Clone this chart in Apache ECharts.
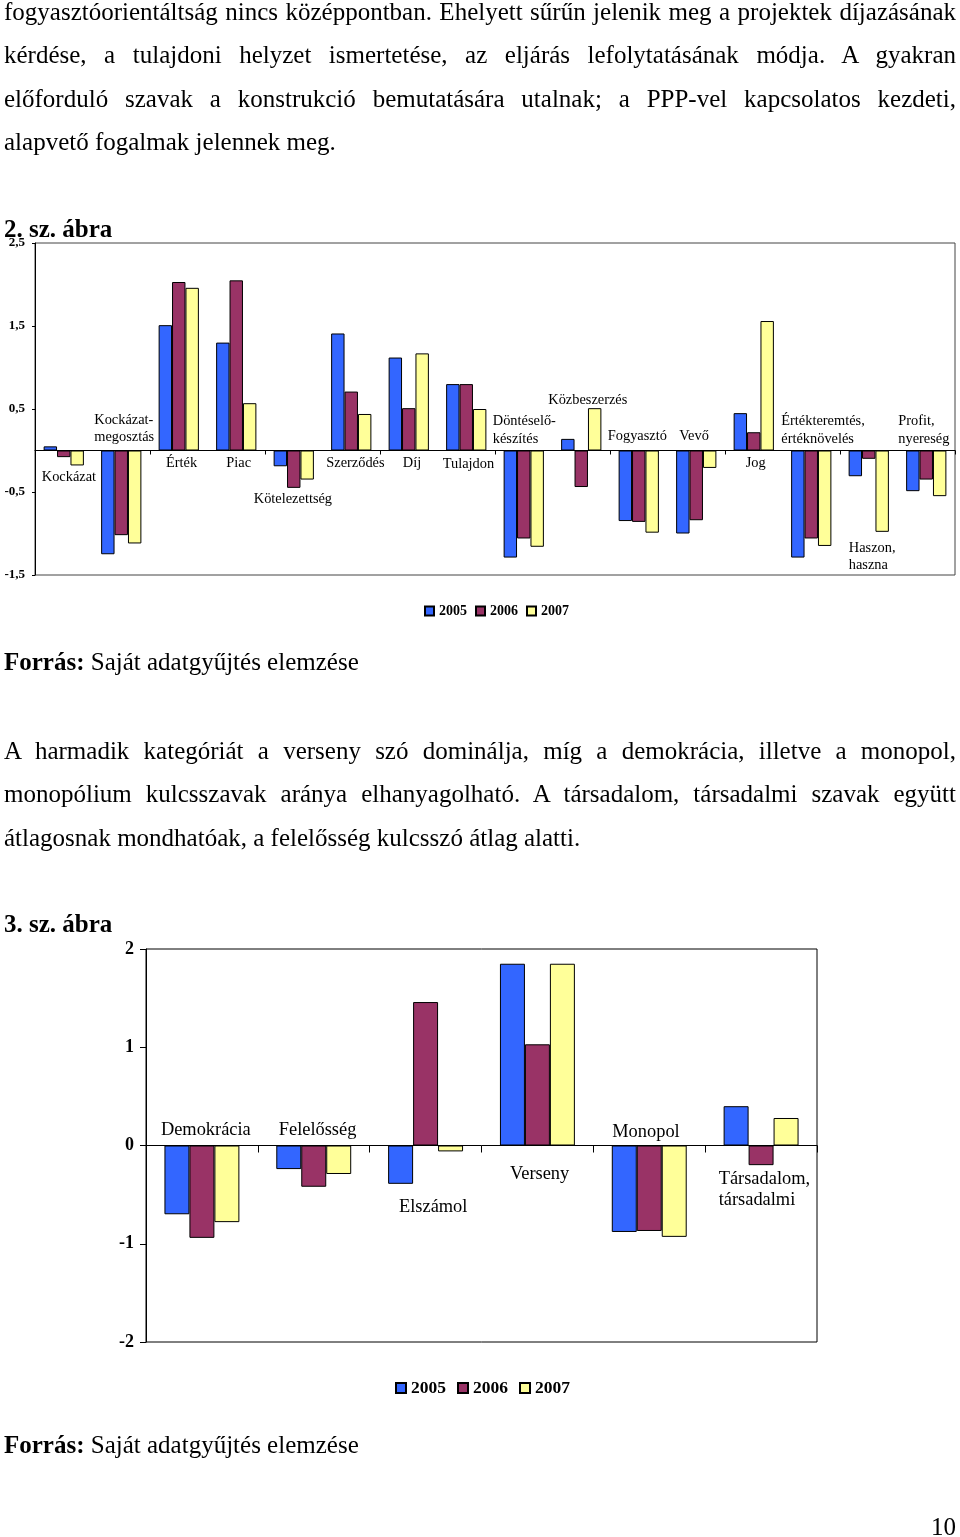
<!DOCTYPE html>
<html><head><meta charset="utf-8">
<script src="https://cdn.jsdelivr.net/npm/echarts@6/dist/echarts.min.js"></script>
<style>
html,body{margin:0;padding:0;background:#fff;}
body{width:960px;height:1537px;position:relative;overflow:hidden;font-family:"Liberation Serif","Times New Roman",serif;color:#000;}
#chart{position:absolute;left:0;top:0;width:960px;height:1537px;z-index:1;}
.t{position:absolute;left:4px;width:952px;font-size:25px;line-height:25px;z-index:2;white-space:normal;}
.j{text-align:justify;text-align-last:justify;}
.b{font-weight:bold;}
</style></head><body>
<div id="chart"></div>
<div class="t j" style="top:-1.2px">fogyasztóorientáltság nincs középpontban. Ehelyett sűrűn jelenik meg a projektek díjazásának</div>
<div class="t j" style="top:42.3px">kérdése, a tulajdoni helyzet ismertetése, az eljárás lefolytatásának módja. A gyakran</div>
<div class="t j" style="top:85.6px">előforduló szavak a konstrukció bemutatására utalnak; a PPP-vel kapcsolatos kezdeti,</div>
<div class="t" style="top:129px">alapvető fogalmak jelennek meg.</div>
<div class="t b" style="top:215.6px">2. sz. ábra</div>
<div class="t" style="top:649px"><b>Forrás:</b> Saját adatgyűjtés elemzése</div>
<div class="t j" style="top:738.1px">A harmadik kategóriát a verseny szó dominálja, míg a demokrácia, illetve a monopol,</div>
<div class="t j" style="top:781.4px">monopólium kulcsszavak aránya elhanyagolható. A társadalom, társadalmi szavak együtt</div>
<div class="t" style="top:824.7px">átlagosnak mondhatóak, a felelősség kulcsszó átlag alatti.</div>
<div class="t b" style="top:911.4px">3. sz. ábra</div>
<div class="t" style="top:1432px"><b>Forrás:</b> Saját adatgyűjtés elemzése</div>
<div class="t" style="top:1514px;text-align:right">10</div>
<script>
// ---- Data: figure 2 ----
const cats1 = ['Kockázat','Kockázat-\nmegosztás','Érték','Piac','Kötelezettség','Szerződés','Díj','Tulajdon','Döntéselő-\nkészítés','Közbeszerzés','Fogyasztó','Vevő','Jog','Értékteremtés,\nértéknövelés','Haszon,\nhaszna','Profit,\nnyereség'];
const s2005_1 = [0.05,-1.25,1.51,1.30,-0.19,1.41,1.12,0.80,-1.29,0.14,-0.85,-1.00,0.45,-1.29,-0.31,-0.49];
const s2006_1 = [-0.08,-1.02,2.03,2.05,-0.45,0.71,0.51,0.80,-1.06,-0.44,-0.86,-0.84,0.22,-1.06,-0.10,-0.35];
const s2007_1 = [-0.18,-1.12,1.96,0.57,-0.35,0.44,1.17,0.50,-1.16,0.51,-0.99,-0.21,1.56,-1.15,-0.98,-0.55];
const yTicks1 = [-1.5,-0.5,0.5,1.5,2.5];
// ---- Data: figure 3 ----
const cats2 = ['Demokrácia','Felelősség','Elszámol','Verseny','Monopol','Társadalom,\ntársadalmi'];
const s2005_2 = [-0.70,-0.24,-0.39,1.85,-0.88,0.40];
const s2006_2 = [-0.94,-0.42,1.46,1.03,-0.87,-0.20];
const s2007_2 = [-0.78,-0.29,-0.06,1.85,-0.93,0.28];
const yTicks2 = [-2,-1,0,1,2];
const years = ['2005','2006','2007'];

// ---- Layout (label offsets from category centre / zero line, px) ----
const lay1 = [[-22,26.3],[-27,-22],[-12.75,12.3],[-10,12.3],[-40,48.3],[-25,12.3],[-6,12.3],[-23.5,14],[-31,-20.5],[-33,-50],[-31,-14],[-17,-14],[-8,13],[-30,-20.5],[-20,106],[-28,-20.5]];
const lay2 = [[-41,-15],[-35,-15],[-26.6,62],[-27.4,28.4],[-37,-13.6],[-42.4,44]];

const FONT = 'Liberation Serif';
const colors = ['#3366FF','#993366','#FFFF99'];

function barSeries(name, data, idx, color) {
  return {
    name, type:'bar', data, xAxisIndex:idx, yAxisIndex:idx,
    barGap:'0%', barCategoryGap: idx === 0 ? '30%' : '33%',
    itemStyle:{color, borderColor:'#000', borderWidth:1},
    emphasis:{disabled:true}, animation:false
  };
}

const chart = echarts.init(document.getElementById('chart'));
const option = {
  animation:false,
  grid:[
    {left:35, top:243, width:920, height:332, show:true, borderColor:'#444', borderWidth:1, containLabel:false},
    {left:146, top:949, width:671, height:393, show:true, borderColor:'#000', borderWidth:1, containLabel:false}
  ],
  xAxis:[
    {type:'category', gridIndex:0, data:cats1, axisLine:{onZero:true, lineStyle:{color:'#000', width:1}},
     axisTick:{show:true, length:4, lineStyle:{color:'#000'}}, axisLabel:{show:false}, splitLine:{show:false}},
    {type:'category', gridIndex:1, data:cats2, axisLine:{onZero:true, lineStyle:{color:'#000', width:1}},
     axisTick:{show:true, length:7, lineStyle:{color:'#000'}}, axisLabel:{show:false}, splitLine:{show:false}}
  ],
  yAxis:[
    {type:'value', gridIndex:0, min:-1.5, max:2.5, interval:0.5,
     axisLine:{show:true, lineStyle:{color:'#000', width:1}},
     axisTick:{show:true, length:3, customValues:yTicks1, lineStyle:{color:'#000'}},
     axisLabel:{customValues:yTicks1, margin:10, color:'#000', fontFamily:FONT, fontWeight:'bold', fontSize:13,
       formatter:v => (Number.isInteger(v) ? '' : String(v).replace('.', ','))},
     splitLine:{show:false}},
    {type:'value', gridIndex:1, min:-2, max:2, interval:1,
     axisLine:{show:true, lineStyle:{color:'#000', width:1}},
     axisTick:{show:true, length:6, customValues:yTicks2, lineStyle:{color:'#000'}},
     axisLabel:{customValues:yTicks2, margin:12, color:'#000', fontFamily:FONT, fontWeight:'bold', fontSize:18},
     splitLine:{show:false}}
  ],
  legend:[
    {data:years, left:419, top:599, icon:'rect', itemWidth:9, itemHeight:9, itemGap:8,
     selectedMode:false, textStyle:{fontFamily:FONT, fontWeight:'bold', fontSize:14, color:'#000'}},
    {data:years, left:390, top:1374, icon:'rect', itemWidth:10, itemHeight:10, itemGap:11,
     selectedMode:false, textStyle:{fontFamily:FONT, fontWeight:'bold', fontSize:17.5, color:'#000'}}
  ],
  series:[
    barSeries(years[0], s2005_1, 0, colors[0]),
    barSeries(years[1], s2006_1, 0, colors[1]),
    barSeries(years[2], s2007_1, 0, colors[2]),
    barSeries(years[0], s2005_2, 1, colors[0]),
    barSeries(years[1], s2006_2, 1, colors[1]),
    barSeries(years[2], s2007_2, 1, colors[2])
  ]
};
chart.setOption(option);

function catLabels(gridIndex, cats, lay, fontSize, lineHeight) {
  return cats.map((c, i) => {
    const p = chart.convertToPixel({gridIndex}, [i, 0]);
    return {type:'text', x:p[0] + lay[i][0], y:p[1] + lay[i][1], z:10, silent:true,
      style:{text:c, fontFamily:FONT, fontSize, lineHeight, fill:'#000', align:'left', verticalAlign:'middle'}};
  });
}
chart.setOption({graphic:[].concat(
  catLabels(0, cats1, lay1, 14.4, 17.5),
  catLabels(1, cats2, lay2, 18.4, 21)
)});
</script>
</body></html>
